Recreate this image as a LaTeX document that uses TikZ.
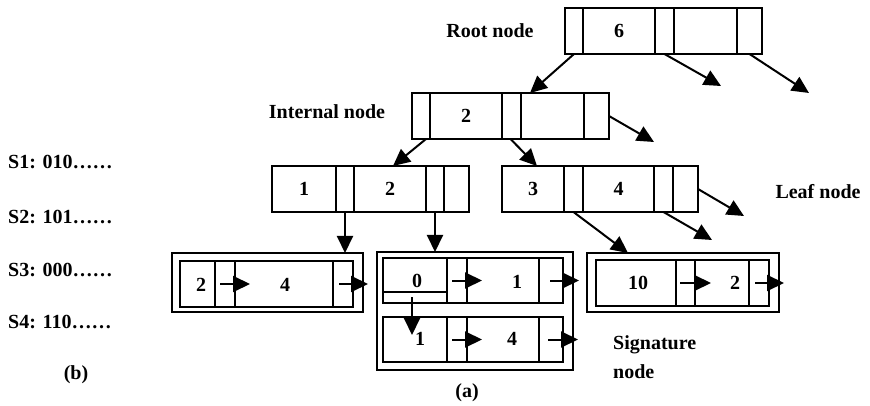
\documentclass[tikz,border=0pt]{standalone}
\usepackage{fontspec}
\setmainfont{Liberation Serif}
\usetikzlibrary{arrows.meta}

% one rectangular cell of a record: name, x1, x2, y1, y2, text
\newcommand\mkcell[6]{%
  \node[cellbox, minimum width={(#3-#2)*1pt}, minimum height={(#5-#4)*1pt}]
    (#1) at ({(#2+#3)/2},{(#4+#5)/2}) {#6};}

\begin{document}
\begin{tikzpicture}[x=1pt, y=-1pt,
  every node/.style={font=\fontsize{20}{29}\selectfont\bfseries},
  cellbox/.style={draw, line width=2pt, inner sep=0pt, outer sep=0pt},
  ptr/.style={line width=2pt, -{Triangle[length=17pt,width=16pt]}},
  txt/.style={inner sep=0pt}]

\useasboundingbox (0,0) rectangle (870,406);

% root node
\mkcell{r1}{565}{583}{8}{54}{}
\mkcell{r2}{583}{655}{8}{54}{6}
\mkcell{r3}{655}{674}{8}{54}{}
\mkcell{r4}{674}{737}{8}{54}{}
\mkcell{r5}{737}{762}{8}{54}{}

% internal node
\mkcell{i1}{412}{430}{93}{139}{}
\mkcell{i2}{430}{502}{93}{139}{2}
\mkcell{i3}{502}{521}{93}{139}{}
\mkcell{i4}{521}{584}{93}{139}{}
\mkcell{i5}{584}{609}{93}{139}{}

% leaf nodes
\mkcell{a1}{272}{336}{166}{212}{1}
\mkcell{a2}{336}{354}{166}{212}{}
\mkcell{a3}{354}{426}{166}{212}{2}
\mkcell{a4}{426}{444}{166}{212}{}
\mkcell{a5}{444}{469}{166}{212}{}

\mkcell{b1}{502}{564}{166}{212}{3}
\mkcell{b2}{564}{583}{166}{212}{}
\mkcell{b3}{583}{654}{166}{212}{4}
\mkcell{b4}{654}{673}{166}{212}{}
\mkcell{b5}{673}{698}{166}{212}{}

% signature node 1
\mkcell{sg1}{172}{363}{253}{312}{}
\mkcell{c1}{180}{215}{261}{307}{}
\mkcell{c2}{215}{235}{261}{307}{}
\mkcell{c3}{235}{333}{261}{307}{}
\mkcell{c4}{333}{353}{261}{307}{}
\node[txt] (c1t) at (201,285) {2};
\node[txt] (c3t) at (285,285) {4};

% signature node 2 (two entries)
\mkcell{sg2}{377}{573}{252}{370}{}
\mkcell{d1}{383}{447}{258}{303}{}
\mkcell{d2}{447}{467}{258}{303}{}
\mkcell{d3}{467}{539}{258}{303}{}
\mkcell{d4}{539}{563}{258}{303}{}
\mkcell{e1}{383}{447}{317}{362}{}
\mkcell{e2}{447}{467}{317}{362}{}
\mkcell{e3}{467}{539}{317}{362}{}
\mkcell{e4}{539}{563}{317}{362}{}
\draw[line width=2pt] (383,292) -- (447,292);
\node[txt] (d1t) at (417,281) {0};
\node[txt] (d3t) at (517,282) {1};
\node[txt] (e1t) at (420,339) {1};
\node[txt] (e3t) at (512,339) {4};

% signature node 3
\mkcell{sg3}{587}{779}{253}{312}{}
\mkcell{f1}{596}{676}{260}{306}{}
\mkcell{f2}{676}{695}{260}{306}{}
\mkcell{f3}{695}{749}{260}{306}{}
\mkcell{f4}{749}{769}{260}{306}{}
\node[txt] (f1t) at (638,283) {10};
\node[txt] (f3t) at (735,283) {2};

% free ends of dangling pointers
\coordinate (t1) at (721,86);
\coordinate (t2) at (809,93);
\coordinate (t3) at (654,142);
\coordinate (t4) at (712,240);
\coordinate (t5) at (744,216);

% tree pointers
\draw[ptr] (r1.south) -- ([xshift=9pt]i4.north west);
\draw[ptr] (r3.south) -- (t1);
\draw[ptr] (r5.south) -- (t2);
\draw[ptr] (i5.east) -- (t3);
\draw[ptr] ([xshift=5pt]i1.south) -- ([xshift=3pt]a3.north);
\draw[ptr] ([xshift=-1pt]i3.south) -- ([xshift=4pt]b1.north);
\draw[ptr] (a2.south) -- (a2.south |- sg1.north);
\draw[ptr] (a4.south) -- (a4.south |- sg2.north);
\draw[ptr] (b2.south) -- ([xshift=41pt]sg3.north west);
\draw[ptr] (b4.south) -- (t4);
\draw[ptr] (b5.east) -- (t5);

% pointers inside signature nodes
\draw[ptr] ([xshift=5pt]c2.west) -- ([xshift=15pt]c2.east);
\draw[ptr] ([xshift=6pt]c4.west) -- ([xshift=15pt]c4.east);
\draw[ptr] ([xshift=5pt]d2.west) -- ([xshift=15pt]d2.east);
\draw[ptr] ([xshift=11pt]d4.west) -- ([xshift=16pt]d4.east);
\draw[ptr] ([xshift=5pt]e2.west) -- ([xshift=15pt]e2.east);
\draw[ptr] ([xshift=9pt]e4.west) -- ([xshift=15pt]e4.east);
\draw[ptr] ([xshift=4pt]f2.west) -- ([xshift=16pt]f2.east);
\draw[ptr] ([xshift=6pt]f4.west) -- ([xshift=15pt]f4.east);
\draw[ptr] ([xshift=-3pt,yshift=6pt]d1.south) -- ([xshift=-3pt,yshift=-18pt]e1.north);

% labels
\node[txt] (lroot) at (490,31) {Root node};
\node[txt] (lint) at (327,112) {Internal node};
\node[txt] (lleaf) at (818,192) {Leaf node};
\node[txt, align=left, anchor=west] (lsig) at (613,357) {Signature\\node};
\node[txt] (la) at (467,393) {(a)};
\node[txt] (lb) at (76,375) {(b)};
\node[txt, anchor=west] (s1) at (8,162) {S1: 010……};
\node[txt, anchor=west] (s2) at (8,217) {S2: 101……};
\node[txt, anchor=west] (s3) at (8,270) {S3: 000……};
\node[txt, anchor=west] (s4) at (8,322) {S4: 110……};
\end{tikzpicture}
\end{document}
